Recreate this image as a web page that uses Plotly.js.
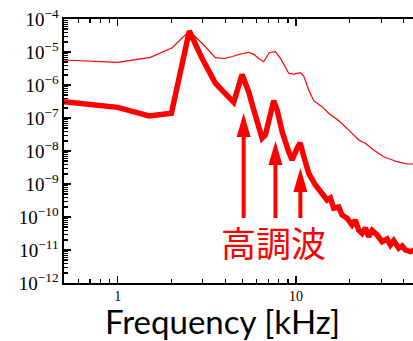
<!DOCTYPE html>
<html><head><meta charset="utf-8">
<script src="https://cdn.plot.ly/plotly-3.0.1.min.js"></script>
<style>html,body{margin:0;padding:0;background:#fff;overflow:hidden}</style>
</head><body><div id="chart" style="width:413px;height:341px"></div>
<script>
// Upper envelope (thin line)
const envFreq = [0.5, 1.0, 1.525, 2.02, 2.52, 2.97, 3.53, 3.96, 4.39, 4.87, 5.42, 5.79, 6.17, 6.58, 7.09, 7.66, 8.17, 9.09, 9.69, 10.57, 11.03, 11.77, 12.55, 13.99, 15.23, 17.34, 20.16, 22.43, 24.46, 27.2, 30.97, 36.8, 41.9, 47.3];
const envPower = [5.73e-6, 4.88e-6, 6.9e-6, 1.35e-5, 4.33e-5, 1.84e-5, 6.71e-6, 6.35e-6, 7.31e-6, 8.69e-6, 9.8e-6, 8.5e-6, 6.35e-6, 5.08e-6, 9.66e-6, 1.02e-5, 6.44e-6, 2.26e-6, 2.15e-6, 2.36e-6, 1.87e-6, 7.05e-7, 3.34e-7, 2.2e-7, 1.39e-7, 8.28e-8, 3.85e-8, 2.15e-8, 1.71e-8, 1.07e-8, 6.71e-9, 4.74e-9, 4.04e-9, 4.04e-9];
// Spectrum (thick line)
const specFreq = [0.5, 1.0, 1.5, 2.0, 2.52, 2.97, 3.53, 4.02, 4.47, 4.98, 5.42, 5.79, 6.17, 6.45, 6.73, 7.18, 7.49, 7.83, 8.35, 9.09, 9.5, 10.13, 10.54, 11.03, 11.77, 12.83, 13.99, 14.92, 15.57, 16.25, 17.34, 18.1, 19.32, 20.6, 21.5, 22.43, 23.44, 24.46, 25.53, 26.67, 28.45, 30.35, 32.36, 33.8, 35.25, 37.6, 39.3, 41.0, 43.7, 47.3];
const specPower = [3.12e-7, 2.1e-7, 1.15e-7, 1.39e-7, 4.33e-5, 6.44e-6, 1.13e-6, 5.6e-7, 2.99e-7, 2.08e-6, 6.27e-7, 1.75e-7, 4.33e-8, 2.43e-8, 3.06e-8, 1.09e-7, 3.34e-7, 1.75e-7, 3.85e-8, 9.5e-9, 5.33e-9, 1.21e-8, 1.75e-8, 7.05e-9, 2.11e-9, 9.33e-10, 5.22e-10, 3.27e-10, 3.77e-10, 1.84e-10, 2.01e-10, 1.15e-10, 9.14e-11, 5.73e-11, 8.1e-11, 4.04e-11, 3.2e-11, 4.64e-11, 2.53e-11, 3.9e-11, 2.85e-11, 1.79e-11, 2.15e-11, 1.42e-11, 1.94e-11, 1.13e-11, 1.32e-11, 1.0e-11, 8.9e-12, 1.07e-11];
// Harmonic arrows (kHz) and their tip levels
const harmonicFreq = [5.08, 7.66, 10.57];
const harmonicTipPower = [1.42e-7, 2.0e-8, 3.05e-9];
const harmonicLabel = '高調波';
const xTickVals = [1, 10];
const xTickText = ['1', '10'];
const yTickVals = [1e-12, 1e-11, 1e-10, 1e-9, 1e-8, 1e-7, 1e-6, 1e-5, 1e-4];
const yTickText = ['10<sup>−12</sup>', '10<sup>−11</sup>', '10<sup>−10</sup>', '10<sup>−9</sup>', '10<sup>−8</sup>', '10<sup>−7</sup>', '10<sup>−6</sup>', '10<sup>−5</sup>', '10<sup>−4</sup>'];
const xTitle = 'Frequency [kHz]';

const xr = [Math.log10(0.5), Math.log10(0.5) + 349 / 178.4];
const yr = [-12, -4];

const xMinor = [];
for (let e = -1; e <= 1; e++) for (let m = 2; m <= 9; m++) { const v = m * Math.pow(10, e); if (v >= 0.5 && v < 50) xMinor.push(v); }
const yMinor = [];
for (let e = -12; e <= -5; e++) for (let m = 2; m <= 9; m++) yMinor.push(m * Math.pow(10, e));

const px = f => (Math.log10(f) - xr[0]) / (xr[1] - xr[0]);
const py = v => (Math.log10(v) - yr[0]) / (yr[1] - yr[0]);
const plotH = 264, plotW = 349;
const baseY = (283 - 218) / plotH;
const headH = 24 / plotH, headHW = 7 / plotW;

const shapes = [];
harmonicFreq.forEach((f, i) => {
  const x = px(f), yt = py(harmonicTipPower[i]);
  shapes.push({type: 'line', xref: 'paper', yref: 'paper', x0: x, x1: x, y0: baseY, y1: yt - headH + 0.005, line: {color: '#ff0000', width: 4}});
  shapes.push({type: 'path', xref: 'paper', yref: 'paper', path: `M${x - headHW},${yt - headH} L${x},${yt} L${x + headHW},${yt - headH} Z`, fillcolor: '#ff0000', line: {width: 0}});
});

const traces = [
  {x: envFreq, y: envPower, type: 'scatter', mode: 'lines', line: {color: '#ff0000', width: 1.2}, hoverinfo: 'skip'},
  {x: specFreq, y: specPower, type: 'scatter', mode: 'lines', line: {color: '#ff0000', width: 5.5}, hoverinfo: 'skip'}
];

const layout = {
  width: 413, height: 341,
  margin: {l: 64, r: 0, t: 19, b: 58, pad: 0},
  paper_bgcolor: '#fff', plot_bgcolor: '#fff',
  showlegend: false,
  xaxis: {
    type: 'log', range: xr, tickvals: xTickVals, ticktext: xTickText,
    ticks: 'inside', ticklen: 7, tickwidth: 1.3, tickcolor: '#000',
    showline: true, linecolor: '#000', linewidth: 1.6, mirror: 'ticks',
    showgrid: false, zeroline: false,
    tickfont: {family: 'Liberation Serif', size: 14, color: '#000'},
    minor: {tickvals: xMinor, ticks: 'inside', ticklen: 4, tickwidth: 1.2, tickcolor: '#000', showgrid: false}
  },
  yaxis: {
    type: 'log', range: yr, tickvals: yTickVals, ticktext: yTickText,
    ticks: 'inside', ticklen: 7, tickwidth: 1.3, tickcolor: '#000',
    showline: true, linecolor: '#000', linewidth: 1.6, mirror: false,
    showgrid: false, zeroline: false,
    tickfont: {family: 'Liberation Serif', size: 19, color: '#000'},
    minor: {tickvals: yMinor, ticks: 'inside', ticklen: 3.5, tickwidth: 1.2, tickcolor: '#000', showgrid: false}
  },
  shapes: shapes,
  annotations: [
    {text: harmonicLabel, xref: 'paper', yref: 'paper', x: (273 - 64) / plotW, y: (283 - 241) / plotH, xanchor: 'center', yanchor: 'middle', showarrow: false,
     font: {family: 'Noto Sans CJK JP', size: 35, color: '#ff0000'}},
    {text: xTitle, xref: 'paper', yref: 'paper', x: (222 - 64) / plotW, y: (283 - 321) / plotH, xanchor: 'center', yanchor: 'middle', showarrow: false, borderpad: 0,
     font: {family: 'Lato', size: 33, color: '#000'}}
  ]
};

Plotly.newPlot('chart', traces, layout, {staticPlot: true, displayModeBar: false});
</script>
</body></html>
